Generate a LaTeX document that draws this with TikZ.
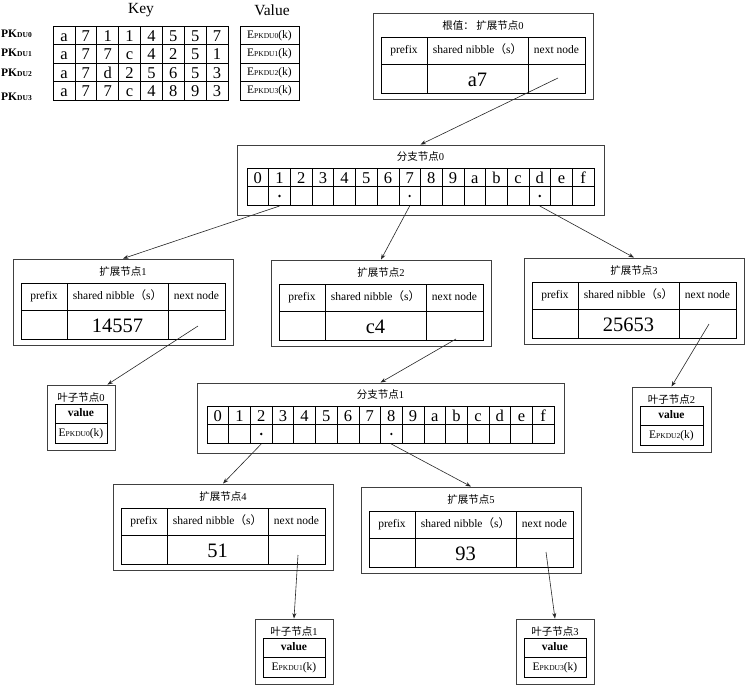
\documentclass[tikz,border=0pt]{standalone}
\usepackage{fontspec}
\setmainfont{Liberation Serif}
\newfontfamily\cjk{Noto Sans CJK SC}
\usetikzlibrary{arrows.meta,calc}
\newcommand\fsz[1]{\fontsize{#1}{#1}\selectfont}
\newcommand\Epk[1]{E{\fsz{7.5}PKDU#1}(k)}
\newcommand\PKlab[1]{\textbf{PK{\fsz{7.5}DU#1}}}
\tikzset{
  outerbox/.style={draw=black!75, line width=0.9pt, rectangle, inner sep=0pt},
  tbl/.style={draw=black, line width=0.6pt},
  lbl/.style={inner sep=0pt, font=\fsz{11.5}, text height=8pt, text depth=2.5pt},
  ttl/.style={inner sep=0pt, font=\fsz{10.5}},
  cell/.style={inner sep=0pt, font=\fsz{16.5}, text height=11.5pt, text depth=0pt},
  big/.style={inner sep=0pt, font=\fsz{20.5}, text height=14.5pt, text depth=0pt},
  conn/.style={draw=black!85, line width=0.6pt, -{Stealth[length=5.5pt,width=4pt]}},
  dotm/.style={circle, fill=black, inner sep=0pt, minimum size=2.6pt},
}
% extension node: name, x, y, title, value, y-offset of outgoing connector
\newcommand\extbox[6]{%
  \node[outerbox, minimum width=220pt, minimum height=86pt] (#1) at ({#2+110},{#3+43}) {};
  \node[ttl] (#1-t) at ({#2+110},{#3+13}) {#4};
  \draw[tbl] ({#2+8},{#3+24}) rectangle ({#2+212},{#3+80});
  \draw[tbl] ({#2+8},{#3+51}) -- ({#2+212},{#3+51});
  \draw[tbl] ({#2+54},{#3+24}) -- ({#2+54},{#3+80});
  \draw[tbl] ({#2+155},{#3+24}) -- ({#2+155},{#3+80});
  \node[lbl] (#1-p) at ({#2+31},{#3+37.5}) {prefix};
  \node[lbl] (#1-s) at ({#2+104.5},{#3+37.5}) {shared nibble{\cjk （}s{\cjk ）}};
  \node[lbl] (#1-n) at ({#2+183.5},{#3+37.5}) {next node};
  \node[big] (#1-v) at ({#2+104.5},{#3+66}) {#5};
  \coordinate (#1-out) at ({#2+185},{#3+#6});
}
% branch node: name, x, y, title
\newcommand\branchbox[4]{%
  \node[outerbox, minimum width=367pt, minimum height=70pt] (#1) at ({#2+183.5},{#3+35}) {};
  \node[ttl] (#1-t) at ({#2+183.5},{#3+12}) {#4};
  \draw[tbl] ({#2+10},{#3+23}) rectangle ({#2+357},{#3+60});
  \draw[tbl] ({#2+10},{#3+41.5}) -- ({#2+357},{#3+41.5});
  \foreach \hx [count=\k from 0] in {0,1,2,3,4,5,6,7,8,9,a,b,c,d,e,f} {
    \node[cell] (#1-h\k) at ({#2+10+(\k+0.5)*21.6875},{#3+32.25}) {\hx};
    \coordinate (#1-c\k) at ({#2+10+(\k+0.5)*21.6875},{#3+61});
    \ifnum\k>0 \draw[tbl] ({#2+10+\k*21.6875},{#3+23}) -- ++(0,37);\fi
  }
}
% leaf node: name, x, y, width, title, index
\newcommand\leafbox[6]{%
  \node[outerbox, minimum width=#4pt, minimum height=65pt] (#1) at ({#2+#4/2},{#3+32.5}) {};
  \node[ttl] (#1-t) at ({#2+#4/2},{#3+12.5}) {#5};
  \draw[tbl] ({#2+8},{#3+19}) rectangle ({#2+#4-8},{#3+58});
  \draw[tbl] ({#2+8},{#3+38.5}) -- ({#2+#4-8},{#3+38.5});
  \node[lbl, font=\bfseries\fsz{11.5}] (#1-k) at ({#2+#4/2},{#3+28.75}) {value};
  \node[lbl] (#1-e) at ({#2+#4/2},{#3+48.25}) {\Epk{#6}};
}
\begin{document}
\begin{tikzpicture}[x=1pt,y=-1pt]
\useasboundingbox (0,0) rectangle (748,686);
% key / value table
\node[inner sep=0pt, font=\fsz{15.5}] (keyh) at (141,10) {Key};
\node[inner sep=0pt, font=\fsz{15.5}] (valh) at (272,10) {Value};
\draw[tbl] (53,26) rectangle (228,100);
\draw[tbl] (240,26) rectangle (299,100);
\foreach \yy in {44.5,63,81.5} {
  \draw[tbl] (53,\yy) -- (228,\yy);
  \draw[tbl] (240,\yy) -- (299,\yy);
}
\foreach \k in {1,...,7} { \draw[tbl] ({53+\k*21.875},26) -- ({53+\k*21.875},100); }
\foreach \row [count=\r from 0] in {{a,7,1,1,4,5,5,7},{a,7,7,c,4,2,5,1},{a,7,d,2,5,6,5,3},{a,7,7,c,4,8,9,3}} {
  \foreach \ch [count=\c from 0] in \row {
    \node[cell] (k\r-\c) at ({53+(\c+0.5)*21.875},{26+(\r+0.5)*18.5}) {\ch};
  }
  \node[lbl] (v\r) at (269.5,{26+(\r+0.5)*18.5}) {\Epk{\r}};
}
\node[lbl, anchor=west] (pk0) at (1,35) {\PKlab{0}};
\node[lbl, anchor=west] (pk1) at (1,54) {\PKlab{1}};
\node[lbl, anchor=west] (pk2) at (1,74) {\PKlab{2}};
\node[lbl, anchor=west] (pk3) at (1,98) {\PKlab{3}};
% nodes
\extbox{root}{373}{13}{{\cjk 根值：\ 扩展节点}0}{a7}{65}
\branchbox{b0}{237}{145}{{\cjk 分支节点}0}
\node[dotm] (b0-d1) at ($(b0-c1)+(0,-10)$) {};
\node[dotm] (b0-d7) at ($(b0-c7)+(0,-10)$) {};
\node[dotm] (b0-d13) at ($(b0-c13)+(0,-10)$) {};
\extbox{e1}{13}{259}{{\cjk 扩展节点}1}{14557}{67}
\extbox{e2}{271}{260}{{\cjk 扩展节点}2}{c4}{79}
\extbox{e3}{524}{258}{{\cjk 扩展节点}3}{25653}{66}
\leafbox{l0}{47}{385}{68}{{\cjk 叶子节点}0}{0}
\leafbox{l2}{632}{387}{79}{{\cjk 叶子节点}2}{2}
\branchbox{b1}{197}{383}{{\cjk 分支节点}1}
\node[dotm] (b1-d2) at ($(b1-c2)+(0,-10)$) {};
\node[dotm] (b1-d8) at ($(b1-c8)+(0,-10)$) {};
\extbox{e4}{113}{484}{{\cjk 扩展节点}4}{51}{71}
\extbox{e5}{361}{487}{{\cjk 扩展节点}5}{93}{65}
\leafbox{l1}{255}{619}{78}{{\cjk 叶子节点}1}{1}
\leafbox{l3}{516}{619}{78}{{\cjk 叶子节点}3}{3}
\coordinate (l0-in) at ($(l0.north east)+(-8,0)$);
% connectors
\draw[conn] (root-out) -- (b0.north);
\draw[conn] (b0-c1) -- (e1.north);
\draw[conn] (b0-c7) -- (e2.north);
\draw[conn] (b0-c13) -- (e3.north);
\draw[conn] (e1-out) -- (l0-in);
\draw[conn] (e2-out) -- (b1.north);
\draw[conn] (e3-out) -- (l2.north);
\draw[conn] (b1-c2) -- (e4.north);
\draw[conn] (b1-c8) -- (e5.north);
\draw[conn] (e4-out) -- (l1.north);
\draw[conn] (e5-out) -- (l3.north);
\end{tikzpicture}
\end{document}
